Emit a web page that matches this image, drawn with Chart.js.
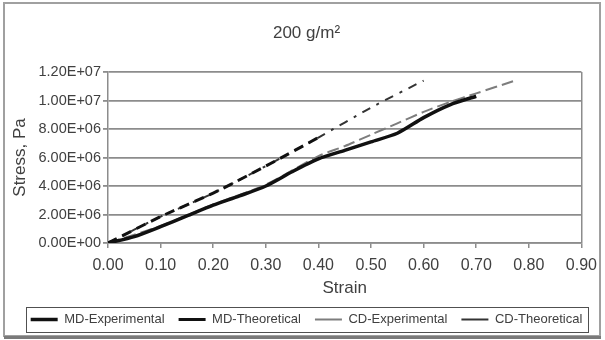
<!DOCTYPE html>
<html>
<head>
<meta charset="utf-8">
<title>200 g/m2 stress-strain</title>
<script src="https://cdn.jsdelivr.net/npm/chart.js@4.4.0/dist/chart.umd.min.js"></script>
<style>
  html, body { margin: 0; padding: 0; background: #fff; }
  #wrap { width: 605px; height: 340px; }
  #chart { filter: blur(0.5px); }
</style>
</head>
<body>
<div id="wrap"><canvas id="chart" width="605" height="340"></canvas></div>
<script>
// stress (Pa) vs strain, one pair of arrays per curve
const mdExpStrain = [0, 0.05, 0.10, 0.15, 0.20, 0.25, 0.30, 0.35, 0.40, 0.45, 0.50, 0.55, 0.60, 0.65, 0.70];
const mdExpStress = [0, 0.45e6, 1.15e6, 1.9e6, 2.65e6, 3.3e6, 4.0e6, 5.0e6, 5.9e6, 6.5e6, 7.1e6, 7.7e6, 8.8e6, 9.7e6, 10.3e6];

const mdTheoStrain = [0, 0.10, 0.20, 0.30, 0.40];
const mdTheoStress = [0, 1.85e6, 3.5e6, 5.4e6, 7.4e6];

const cdExpStrain = [0, 0.10, 0.20, 0.30, 0.40, 0.45, 0.50, 0.55, 0.60, 0.65, 0.70, 0.77];
const cdExpStress = [0, 1.2e6, 2.7e6, 4.1e6, 6.1e6, 6.8e6, 7.6e6, 8.4e6, 9.2e6, 9.9e6, 10.5e6, 11.35e6];

const cdTheoStrain = [0, 0.10, 0.20, 0.30, 0.40, 0.50, 0.60];
const cdTheoStress = [0, 1.85e6, 3.5e6, 5.4e6, 7.4e6, 9.5e6, 11.4e6];

const xTickLabels = ['0.00', '0.10', '0.20', '0.30', '0.40', '0.50', '0.60', '0.70', '0.80', '0.90'];
const yTickLabels = ['0.00E+00', '2.00E+06', '4.00E+06', '6.00E+06', '8.00E+06', '1.00E+07', '1.20E+07'];

const FONT = "'Liberation Sans', Arial, sans-serif";
const TEXT = '#404040';
const GRID = '#8c8c8c';

const pts = (xs, ys) => xs.map((x, i) => ({ x, y: ys[i] }));

// white background, outer frame and the box round the legend
const framePlugin = {
  id: 'frame',
  beforeDraw(chart) {
    const { ctx, width, height } = chart;
    ctx.save();
    ctx.fillStyle = '#fff';
    ctx.fillRect(0, 0, width, height);
    ctx.strokeStyle = '#a0a0a0';
    ctx.lineWidth = 2;
    ctx.strokeRect(4, 3, width - 9, height - 7);
    ctx.strokeStyle = '#7a7a7a';
    ctx.lineWidth = 3;
    ctx.beginPath();
    ctx.moveTo(4, height - 2.5);
    ctx.lineTo(width - 4, height - 2.5);
    ctx.stroke();
    ctx.restore();
  },
  afterDraw(chart) {
    const lg = chart.legend;
    if (!lg || !lg.legendHitBoxes.length) return;
    const boxes = lg.legendHitBoxes;
    const left = Math.min(...boxes.map(b => b.left)) - 5;
    const right = Math.max(...boxes.map(b => b.left + b.width)) + 5;
    const top = Math.min(...boxes.map(b => b.top)) - 6;
    const bottom = Math.max(...boxes.map(b => b.top + b.height)) + 6;
    const { ctx } = chart;
    ctx.save();
    ctx.strokeStyle = '#505050';
    ctx.lineWidth = 1;
    ctx.strokeRect(Math.round(left) + 0.5, Math.round(top) + 0.5, Math.round(right - left), Math.round(bottom - top));
    ctx.restore();
  }
};

new Chart(document.getElementById('chart'), {
  type: 'line',
  data: {
    datasets: [
      {
        label: 'MD-Experimental',
        data: pts(mdExpStrain, mdExpStress),
        borderColor: '#111',
        borderWidth: 3.5,
        pointStyle: 'line',
      },
      {
        label: 'MD-Theoretical',
        data: pts(mdTheoStrain, mdTheoStress),
        borderColor: '#111',
        borderWidth: 3,
        borderDash: [10, 6],
        pointStyle: 'line',
      },
      {
        label: 'CD-Experimental',
        data: pts(cdExpStrain, cdExpStress),
        borderColor: '#7d7d7d',
        borderWidth: 2,
        borderDash: [12, 5],
        pointStyle: 'line',
      },
      {
        label: 'CD-Theoretical',
        data: pts(cdTheoStrain, cdTheoStress),
        borderColor: '#333',
        borderWidth: 2,
        borderDash: [9, 7, 3, 7],
        pointStyle: 'line',
      },
    ],
  },
  options: {
    responsive: false,
    animation: false,
    devicePixelRatio: 1,
    layout: { padding: { left: 8, right: 0, top: 0, bottom: 11 } },
    elements: {
      point: { radius: 0, hoverRadius: 0 },
      line: { tension: 0.25, fill: false },
    },
    plugins: {
      title: {
        display: true,
        text: '200 g/m²',
        color: TEXT,
        font: { family: FONT, size: 17, weight: 'normal' },
        padding: { top: 23, bottom: 28.6 },
      },
      legend: {
        position: 'bottom',
        maxHeight: 30,
        labels: {
          usePointStyle: true,
          pointStyleWidth: 27,
          padding: 14,
          color: TEXT,
          font: { family: FONT, size: 13 },
        },
      },
      tooltip: { enabled: false },
    },
    scales: {
      x: {
        type: 'linear',
        min: 0,
        max: 0.9,
        afterFit: (s) => { s.height = 56; },
        ticks: {
          stepSize: 0.1,
          padding: 8,
          color: TEXT,
          font: { family: FONT, size: 16 },
          callback: (v, i) => xTickLabels[i],
        },
        grid: {
          color: (c) => (c.index === xTickLabels.length - 1 ? GRID : 'rgba(0,0,0,0)'),
          tickColor: GRID,
          tickLength: 5,
          lineWidth: 1.5,
        },
        border: { color: GRID, width: 1.5 },
        title: {
          display: true,
          text: 'Strain',
          color: TEXT,
          font: { family: FONT, size: 17 },
          padding: { top: 0, bottom: 0 },
        },
      },
      y: {
        min: 0,
        max: 1.2e7,
        afterFit: (s) => { s.width = 100; },
        ticks: {
          stepSize: 2e6,
          padding: 2,
          color: TEXT,
          font: { family: FONT, size: 14.5 },
          callback: (v, i) => yTickLabels[i],
        },
        grid: {
          color: GRID,
          tickColor: GRID,
          tickLength: 5,
          lineWidth: 1.8,
        },
        border: { color: GRID, width: 1.5 },
        title: {
          display: true,
          text: 'Stress, Pa',
          color: TEXT,
          font: { family: FONT, size: 17 },
          padding: { top: 2, bottom: 0 },
        },
      },
      // empty strip on the right of the plot area
      yRight: {
        position: 'right',
        afterFit: (s) => { s.width = 22; },
        ticks: { display: false },
        grid: { display: false, drawOnChartArea: false },
        border: { display: false },
      },
    },
  },
  plugins: [framePlugin],
});
</script>
</body>
</html>
